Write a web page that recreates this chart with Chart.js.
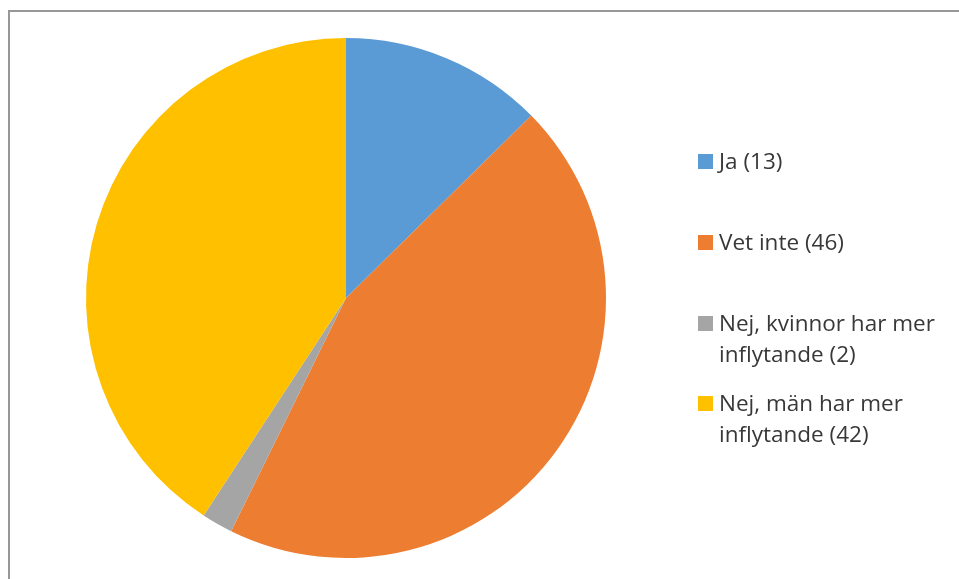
<!DOCTYPE html>
<html>
<head>
<meta charset="utf-8">
<script src="https://cdn.jsdelivr.net/npm/chart.js@4/dist/chart.umd.min.js"></script>
<style>
  html, body { margin: 0; padding: 0; background: #fff; }
  #wrap { position: relative; width: 959px; height: 579px; overflow: hidden; }
  #frame { position: absolute; left: 8px; top: 10px; width: 1000px; height: 1000px;
           border-left: 2px solid #979797; border-top: 2px solid #979797; box-sizing: border-box; }
  canvas { position: absolute; left: 0; top: 0; }
  .item { position: absolute; left: 698px; font-family: "Open Sans", Lato, sans-serif;
          font-size: 22.5px; line-height: 31px; color: #383838; }
  .sw { position: absolute; left: 0; top: 9px; width: 15px; height: 15px; }
  .tx { position: absolute; left: 21px; top: 0; width: 240px; }
</style>
</head>
<body>
<div id="wrap">
  <div id="frame"></div>
  <canvas id="c" width="959" height="579"></canvas>
  <div id="legend"></div>
</div>
<script>
const categories = ["Ja (13)", "Vet inte (46)", "Nej, kvinnor har mer inflytande (2)", "Nej, män har mer inflytande (42)"];
const values = [13, 46, 2, 42];
const colors = ["#5B9BD5", "#ED7D31", "#A5A5A5", "#FFC000"];

const legendTops = [145, 226, 307, 387];
const legend = document.getElementById('legend');
categories.forEach((label, i) => {
  const item = document.createElement('div');
  item.className = 'item';
  item.style.top = legendTops[i] + 'px';
  const sw = document.createElement('div');
  sw.className = 'sw';
  sw.style.background = colors[i];
  const tx = document.createElement('div');
  tx.className = 'tx';
  tx.textContent = label;
  item.appendChild(sw);
  item.appendChild(tx);
  legend.appendChild(item);
});

new Chart(document.getElementById('c'), {
  type: 'pie',
  data: {
    labels: categories,
    datasets: [{ data: values, backgroundColor: colors, borderWidth: 0 }]
  },
  options: {
    responsive: false,
    animation: false,
    layout: { padding: { left: 86, right: 353, top: 38, bottom: 21 } },
    plugins: { legend: { display: false }, tooltip: { enabled: false } }
  }
});
</script>
</body>
</html>
